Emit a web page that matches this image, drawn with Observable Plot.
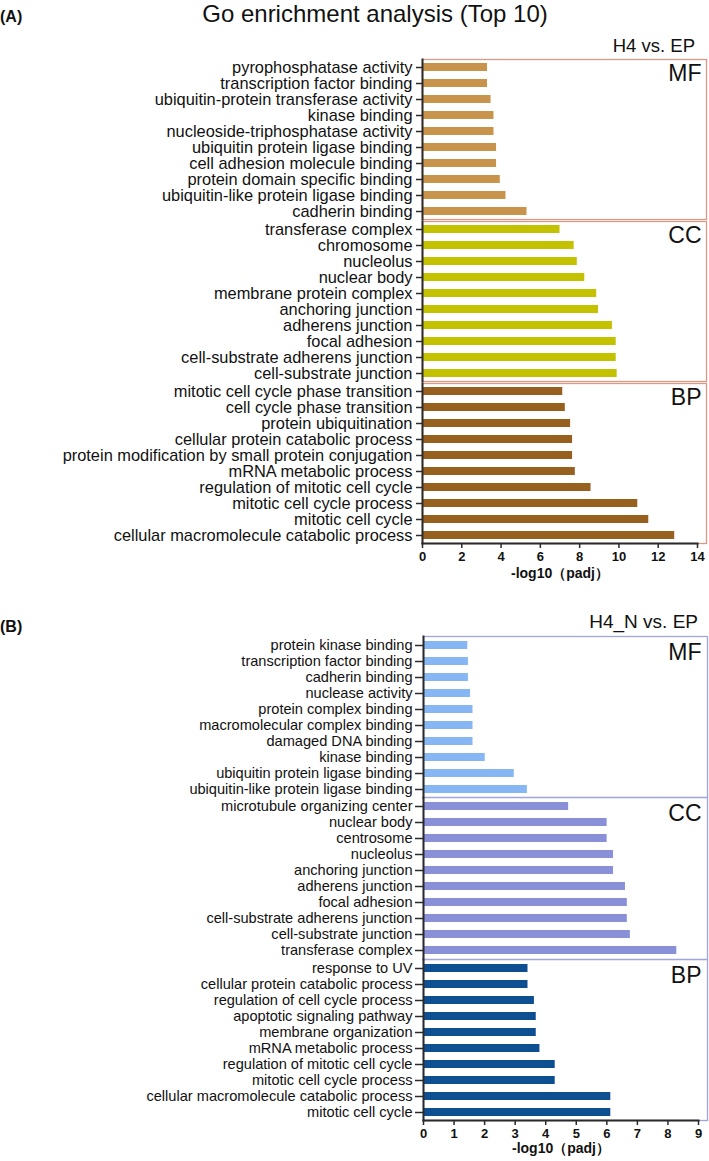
<!DOCTYPE html>
<html><head><meta charset="utf-8">
<script src="https://cdn.jsdelivr.net/npm/d3@7"></script>
<script src="https://cdn.jsdelivr.net/npm/@observablehq/plot@0.6"></script>
<style>
html,body{margin:0;padding:0;background:#fff;overflow:hidden;}
#root{position:relative;width:709px;height:1161px;font-family:"Liberation Sans",Arial,sans-serif;color:#111;}
.t{position:absolute;white-space:nowrap;line-height:1;}
.p{position:absolute;left:0;}
.p svg{display:block;overflow:visible;}
.p svg g[aria-label="x-axis tick label"] text{font-weight:bold;}
</style></head><body><div id="root"></div>
<script>
// ---------- data ----------
const groups = ["MF", "CC", "BP"];
const figTitle = "Go enrichment analysis (Top 10)";
const panelTags = ["(A)", "(B)"];
const comparisons = ["H4 vs. EP", "H4_N vs. EP"];
const axisTitle = "-log10（padj）";

// Panel A (H4 vs. EP)
const aMFTerms = ["pyrophosphatase activity","transcription factor binding","ubiquitin-protein transferase activity","kinase binding","nucleoside-triphosphatase activity","ubiquitin protein ligase binding","cell adhesion molecule binding","protein domain specific binding","ubiquitin-like protein ligase binding","cadherin binding"];
const aMFValues = [3.31, 3.31, 3.49, 3.64, 3.64, 3.77, 3.77, 3.96, 4.25, 5.32];
const aCCTerms = ["transferase complex","chromosome","nucleolus","nuclear body","membrane protein complex","anchoring junction","adherens junction","focal adhesion","cell-substrate adherens junction","cell-substrate junction"];
const aCCValues = [7.00, 7.72, 7.88, 8.26, 8.87, 8.96, 9.67, 9.86, 9.86, 9.91];
const aBPTerms = ["mitotic cell cycle phase transition","cell cycle phase transition","protein ubiquitination","cellular protein catabolic process","protein modification by small protein conjugation","mRNA metabolic process","regulation of mitotic cell cycle","mitotic cell cycle process","mitotic cell cycle","cellular macromolecule catabolic process"];
const aBPValues = [7.14, 7.27, 7.54, 7.64, 7.64, 7.78, 8.58, 10.96, 11.52, 12.84];
const aTicks = [0, 2, 4, 6, 8, 10, 12, 14];

// Panel B (H4_N vs. EP)
const bMFTerms = ["protein kinase binding","transcription factor binding","cadherin binding","nuclease activity","protein complex binding","macromolecular complex binding","damaged DNA binding","kinase binding","ubiquitin protein ligase binding","ubiquitin-like protein ligase binding"];
const bMFValues = [1.45, 1.47, 1.47, 1.54, 1.62, 1.62, 1.62, 2.02, 2.97, 3.40];
const bCCTerms = ["microtubule organizing center","nuclear body","centrosome","nucleolus","anchoring junction","adherens junction","focal adhesion","cell-substrate adherens junction","cell-substrate junction","transferase complex"];
const bCCValues = [4.75, 6.01, 6.01, 6.22, 6.22, 6.61, 6.67, 6.67, 6.77, 8.29];
const bBPTerms = ["response to UV","cellular protein catabolic process","regulation of cell cycle process","apoptotic signaling pathway","membrane organization","mRNA metabolic process","regulation of mitotic cell cycle","mitotic cell cycle process","cellular macromolecule catabolic process","mitotic cell cycle"];
const bBPValues = [3.42, 3.42, 3.63, 3.69, 3.69, 3.81, 4.31, 4.31, 6.13, 6.13];
const bTicks = [0, 1, 2, 3, 4, 5, 6, 7, 8, 9];

// ---------- styles ----------
const FONT = '"Liberation Sans", Arial, sans-serif';
const DARK = "#2a2a2a";
const panels = [
  {
    tag: panelTags[0], comp: comparisons[0], ticks: aTicks,
    sets: [[aMFTerms, aMFValues], [aCCTerms, aCCValues], [aBPTerms, aBPValues]],
    colors: ["#c8944c", "#c4c200", "#98601f"], frame: "#d69a86",
    marginLeft: 422, marginRight: 12, frameExtra: 9,
    tops: [59, 221, 383], heights: [160, 160, 160],
    labelFont: 16.4, tickSize: 6, tickPadding: 4, gDx: 4, gDy: 5, titleDy: 30
  },
  {
    tag: panelTags[1], comp: comparisons[1], ticks: bTicks,
    sets: [[bMFTerms, bMFValues], [bCCTerms, bCCValues], [bBPTerms, bBPValues]],
    colors: ["#86b6f4", "#8990d8", "#0e4f91"], frame: "#a0a6d8",
    marginLeft: 423, marginRight: 11, frameExtra: 9,
    tops: [636, 797, 959], heights: [161, 162, 161],
    labelFont: 14.6, tickSize: 8, tickPadding: 3, gDx: 3, gDy: 7, titleDy: 28
  }
];

const root = document.getElementById("root");
function addText(txt, css) {
  const d = document.createElement("div");
  d.className = "t"; d.textContent = txt;
  Object.assign(d.style, css);
  root.appendChild(d);
}

function groupPlot(p, gi) {
  const [terms, values] = p.sets[gi];
  const data = terms.map((t, i) => ({term: t, value: values[i]}));
  const isLast = gi === groups.length - 1;
  const mb = isLast ? 42 : 1;
  const marks = [
    Plot.frame({stroke: p.frame, strokeWidth: 1.3, insetRight: -p.frameExtra}),
    Plot.barX(data, {y: "term", x: "value", fill: p.colors[gi]}),
    Plot.frame({anchor: "left", stroke: DARK, strokeWidth: 2}),
    Plot.axisY({tickSize: p.tickSize, tickPadding: p.tickPadding, fontSize: p.labelFont, label: null, stroke: DARK, strokeWidth: 1.5, fill: "#111"}),
    Plot.text([groups[gi]], {text: d => d, frameAnchor: "top-right", textAnchor: "end", lineAnchor: "top", dx: p.gDx, dy: p.gDy, fontSize: 23, fill: "#111"})
  ];
  if (isLast) {
    marks.push(
      Plot.axisX({ticks: p.ticks, tickSize: 5, tickPadding: 3, fontSize: 13, fontWeight: "bold", label: null, stroke: DARK, strokeWidth: 1.5, fill: "#111"}),
      Plot.frame({anchor: "bottom", stroke: DARK, strokeWidth: 2}),
      Plot.text([axisTitle], {text: d => d, frameAnchor: "bottom", lineAnchor: "middle", dy: p.titleDy, fontSize: 14, fontWeight: "bold", fill: "#111"})
    );
  }
  return Plot.plot({
    width: 709, height: 1 + p.heights[gi] + mb,
    marginTop: 1, marginBottom: mb, marginLeft: p.marginLeft, marginRight: p.marginRight,
    x: {domain: [0, d3.max(p.ticks)], ...(isLast ? {} : {axis: null})},
    y: {domain: terms, paddingInner: 0.5, paddingOuter: 0.25},
    style: {fontFamily: FONT, background: "transparent", overflow: "visible", color: "#111"},
    marks
  });
}

// Titles
addText(figTitle, {left: "375px", top: "1.7px", fontSize: "24px", transform: "translateX(-50%)"});
const tagTops = [8.5, 618.5];
const compTops = [36.8, 612];
const compRights = [14, 11];
const compSizes = [18.5, 19];
panels.forEach((p, pi) => {
  addText(p.tag, {left: "0px", top: tagTops[pi] + "px", fontSize: "16px", fontWeight: "bold"});
  addText(p.comp, {right: compRights[pi] + "px", top: compTops[pi] + "px", fontSize: compSizes[pi] + "px"});
  groups.forEach((g, gi) => {
    const div = document.createElement("div");
    div.className = "p";
    div.style.top = (p.tops[gi] - 1) + "px";
    div.appendChild(groupPlot(p, gi));
    root.appendChild(div);
  });
});
</script></body></html>
